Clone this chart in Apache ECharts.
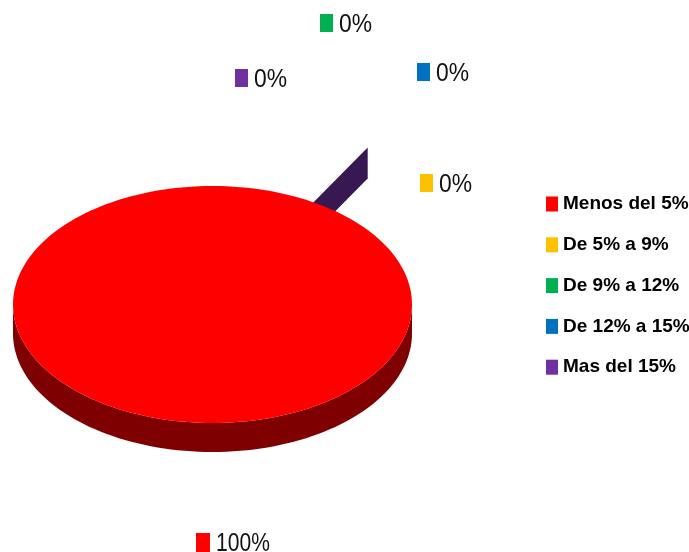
<!DOCTYPE html>
<html><head><meta charset="utf-8">
<style>html,body{margin:0;padding:0;background:#fff}#c{width:689px;height:552px}</style>
<script src="https://cdn.jsdelivr.net/npm/echarts@6/dist/echarts.min.js"></script>
</head><body><div id="c"></div>
<script>
const categories = ['Menos del 5%', 'De 5% a 9%', 'De 9% a 12%', 'De 12% a 15%', 'Mas del 15%'];
const values = [100, 0, 0, 0, 0];
const colors = ['#FF0000', '#FFC000', '#00B050', '#0070C0', '#7030A0'];

// Layout of the oblique pie and of its callouts (key square top-left corner)
const PIE = {cx: 212.5, cy: 304.5, rx: 199.5, ry: 118.5, depth: 29};
const WALL = {angle: 30.4, reach: 1.537, depth: 31};
const CALLOUTS = [
  {x: 196, y: 533, w: 14, h: 19},
  {x: 420, y: 174, w: 13, h: 18},
  {x: 320, y: 14, w: 13, h: 18},
  {x: 417, y: 63, w: 13, h: 18},
  {x: 235, y: 69, w: 13, h: 18}
];

const total = values.reduce((a, b) => a + b, 0);
const dark = c => {
  const [r, g, b] = echarts.color.parse(c);
  return `rgb(${r >> 1},${g >> 1},${b >> 1})`;
};

function pt(deg, t, dy) {
  const a = deg * Math.PI / 180;
  return [PIE.cx + PIE.rx * t * Math.sin(a), PIE.cy - PIE.ry * t * Math.cos(a) + (dy || 0)];
}

function arc(from, to, dy) {
  const pts = [];
  const n = Math.max(2, Math.ceil((to - from) / 2));
  for (let i = 0; i <= n; i++) pts.push(pt(from + (to - from) * i / n, 1, dy));
  return pts;
}

function renderSlice(i) {
  const color = colors[i];
  const from = values.slice(0, i).reduce((a, b) => a + b, 0) / total * 360;
  const to = from + values[i] / total * 360;
  const children = [];

  // The zero-width slices still show their exploded wall behind the pie
  if (i === categories.length - 1) {
    const p0 = pt(WALL.angle, 0), p1 = pt(WALL.angle, WALL.reach);
    children.push({
      type: 'polygon',
      shape: {points: [p0, p1, [p1[0], p1[1] + WALL.depth], [p0[0], p0[1] + WALL.depth]]},
      style: {fill: dark(color)}
    });
  }

  if (to > from) {
    // side wall: the front half of the rim
    const a = Math.max(from, 90), b = Math.min(to, 270);
    if (b > a) {
      children.push({
        type: 'polygon',
        shape: {points: arc(a, b, 0).concat(arc(a, b, PIE.depth).reverse())},
        style: {fill: dark(color)}
      });
    }
    children.push({
      type: 'polygon',
      shape: {points: [[PIE.cx, PIE.cy]].concat(arc(from, to, 0))},
      style: {fill: color}
    });
  }

  const c = CALLOUTS[i];
  children.push({type: 'rect', shape: {x: c.x, y: c.y, width: c.w, height: c.h}, style: {fill: color}, z2: 10});
  children.push({
    type: 'text',
    x: c.x + c.w + 6,
    y: c.y + c.h / 2 + 1.5,
    scaleX: values[i] === 100 ? 0.81 : 0.88,
    z2: 10,
    style: {
      text: Math.round(values[i] / total * 100) + '%',
      fontFamily: 'Liberation Sans', fontSize: 26, fill: '#111',
      align: 'left', verticalAlign: 'middle'
    }
  });
  return {type: 'group', children};
}

const chart = echarts.init(document.getElementById('c'), null, {renderer: 'canvas'});
chart.setOption({
  animation: false,
  backgroundColor: '#fff',
  legend: {
    orient: 'vertical', left: 546, top: 194, padding: 0,
    itemWidth: 12, itemHeight: 15, itemGap: 20.8,
    selectedMode: false, icon: 'rect',
    data: categories,
    textStyle: {fontFamily: 'Liberation Sans', fontWeight: 'bold', fontSize: 19, lineHeight: 20, color: '#000'}
  },
  series: categories.map((name, i) => ({
    type: 'custom', name, coordinateSystem: 'none', silent: true,
    z: i === categories.length - 1 ? 1 : 2,
    itemStyle: {color: colors[i]},
    data: [{name, value: values[i]}],
    renderItem: () => renderSlice(i)
  }))
});
</script></body></html>
